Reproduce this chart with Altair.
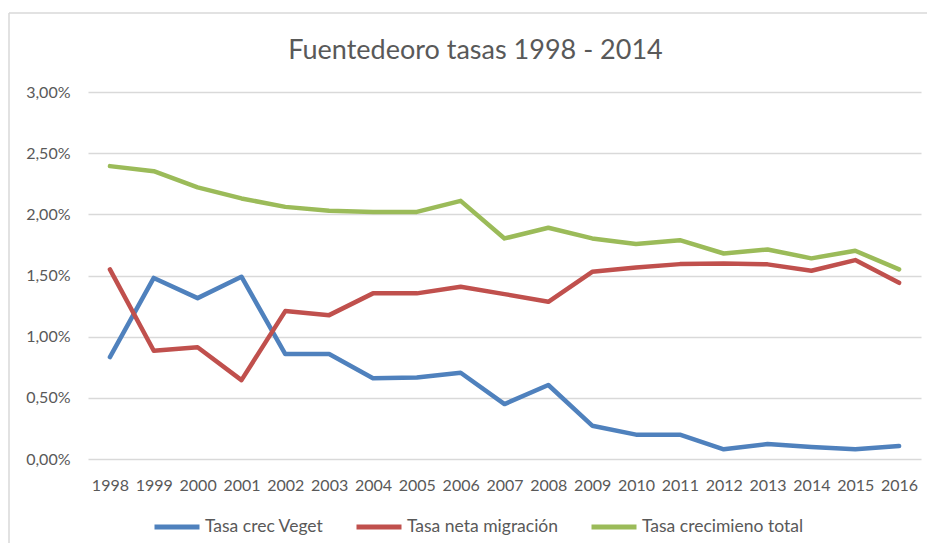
import altair as alt
import pandas as pd

years = ["1998", "1999", "2000", "2001", "2002", "2003", "2004", "2005", "2006", "2007",
         "2008", "2009", "2010", "2011", "2012", "2013", "2014", "2015", "2016"]

series = ["Tasa crec Veget", "Tasa neta migración", "Tasa crecimieno total"]
colors = ["#4F81BD", "#C0504D", "#9BBB59"]

# values in percent
veget = [0.833, 1.48, 1.315, 1.49, 0.858, 0.858, 0.66, 0.667, 0.705, 0.449,
         0.605, 0.272, 0.199, 0.199, 0.079, 0.122, 0.098, 0.079, 0.106]
migracion = [1.55, 0.885, 0.913, 0.645, 1.209, 1.176, 1.354, 1.354, 1.408, 1.348,
             1.285, 1.53, 1.566, 1.593, 1.599, 1.591, 1.539, 1.626, 1.44]
total = [2.394, 2.353, 2.22, 2.13, 2.061, 2.029, 2.02, 2.02, 2.11, 1.803,
         1.89, 1.803, 1.757, 1.789, 1.68, 1.713, 1.64, 1.702, 1.55]

y_ticks = [0, 0.5, 1.0, 1.5, 2.0, 2.5, 3.0]

rows = []
for name, vals in zip(series, [veget, migracion, total]):
    for yr, v in zip(years, vals):
        rows.append({"year": yr, "serie": name, "valor": v})
df = pd.DataFrame(rows)

FONT = "Lato"
GREY = "#595959"

lines = alt.Chart(df).mark_line(
    strokeWidth=4.5, strokeCap="round", strokeJoin="round"
).encode(
    x=alt.X("year:O", sort=years,
            scale=alt.Scale(type="point", padding=0.5),
            axis=alt.Axis(title=None, labelAngle=0, ticks=False, domain=False, grid=False,
                          labelPadding=18, labelFont=FONT, labelFontSize=16,
                          labelColor=GREY)),
    y=alt.Y("valor:Q", scale=alt.Scale(domain=[0, 3], nice=False, zero=True),
            axis=alt.Axis(title=None, values=y_ticks, ticks=False, domain=False, grid=True,
                          gridColor="#d9d9d9", gridWidth=1.3,
                          labelExpr="replace(format(datum.value, '.2f'), '.', ',') + '%'",
                          labelPadding=18, labelFont=FONT, labelFontSize=16,
                          labelColor=GREY)),
    color=alt.Color("serie:N", scale=alt.Scale(domain=series, range=colors),
                    legend=alt.Legend(title=None, orient="none", legendX=64, legendY=410,
                                      direction="horizontal", symbolType="stroke",
                                      symbolSize=2025, symbolStrokeWidth=5,
                                      labelFont=FONT, labelFontSize=17.5, labelColor=GREY,
                                      labelLimit=400,
                                      columnPadding=22, labelOffset=3, padding=0)),
)

frame_src = pd.DataFrame({"k": [0]})
top_border = alt.Chart(frame_src).mark_rule(color="#d9d9d9", strokeWidth=1.5).encode(
    x=alt.value(-79), x2=alt.value(900), y=alt.value(-79))
left_border = alt.Chart(frame_src).mark_rule(color="#d9d9d9", strokeWidth=1.5).encode(
    x=alt.value(-79), y=alt.value(-79), y2=alt.value(520))

chart = alt.layer(top_border, left_border, lines).properties(
    width=833, height=367,
    autosize=alt.AutoSizeParams(type="none"),
    padding={"left": 80, "top": 84, "right": 6, "bottom": 84},
    title=alt.Title("Fuentedeoro tasas 1998 - 2014", font=FONT, fontSize=27,
                    fontWeight="normal", color=GREY, anchor="middle", dx=-29,
                    offset=0, dy=53),
).configure_view(stroke=None)

chart.save("out.html", embed_options={"renderer": "svg", "actions": False})
